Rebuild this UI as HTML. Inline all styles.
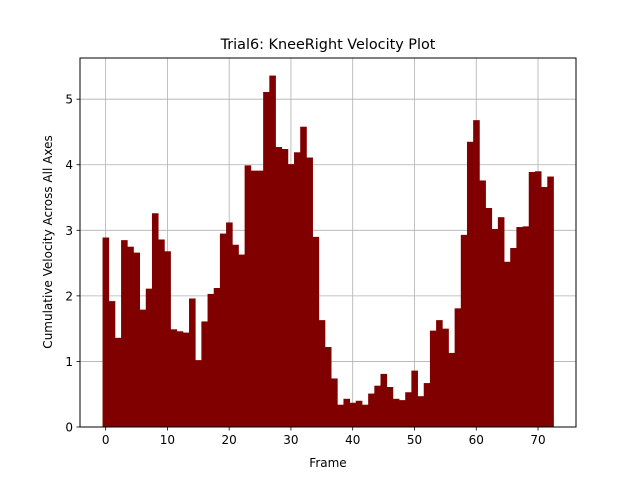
<!DOCTYPE html>
<html><head><meta charset="utf-8"><style>
body{margin:0;background:#fff;}
svg text{font-family:"DejaVu Sans","Liberation Sans",sans-serif;fill:#000;}
</style></head><body>
<svg id="chart" width="640" height="480" viewBox="0 0 640 480" xmlns="http://www.w3.org/2000/svg">
<rect width="640" height="480" fill="#fff"/>
<g id="grid"></g>
<g id="bars"></g>
<rect x="80" y="58" width="496" height="369" fill="none" stroke="#000" stroke-width="1"/>
<g id="ticks"></g>
<text x="328" y="49" text-anchor="middle" font-size="14.4">Trial6: KneeRight Velocity Plot</text>
<text x="328" y="467" text-anchor="middle" font-size="12">Frame</text>
<text transform="translate(52,242) rotate(-90)" text-anchor="middle" font-size="12">Cumulative Velocity Across All Axes</text>
</svg>
<script>
const frames = Array.from({length:73},(_,i)=>i);
const velocities = [2.89,1.92,1.36,2.85,2.75,2.66,1.79,2.11,3.26,2.86,2.68,1.49,1.46,1.44,1.96,1.02,1.61,2.03,2.12,2.95,3.12,2.78,2.63,3.99,3.91,3.91,5.11,5.36,4.27,4.24,4.01,4.19,4.58,4.11,2.90,1.63,1.22,0.74,0.34,0.43,0.37,0.40,0.34,0.51,0.63,0.81,0.61,0.43,0.41,0.53,0.86,0.47,0.67,1.47,1.63,1.50,1.13,1.81,2.93,4.35,4.68,3.76,3.34,3.02,3.20,2.52,2.73,3.05,3.06,3.89,3.90,3.66,3.82];
const xTicks = [0,10,20,30,40,50,60,70];
const yTicks = [0,1,2,3,4,5];
const NS='http://www.w3.org/2000/svg';
const L=80,R=576,T=58,B=427;
const xmin=-4.15,xmax=76.15,ymin=0,ymax=5.628;
const X=v=>L+(v-xmin)/(xmax-xmin)*(R-L);
const Y=v=>B-(v-ymin)/(ymax-ymin)*(B-T);
function mk(tag,a){const e=document.createElementNS(NS,tag);for(const k in a)e.setAttribute(k,a[k]);return e;}
const grid=document.getElementById('grid'),bars=document.getElementById('bars'),ticks=document.getElementById('ticks');
xTicks.forEach(t=>{
 const g=mk('line',{x1:X(t),x2:X(t),y1:T,y2:B,stroke:'#b0b0b0','stroke-width':0.8});
 
 
 grid.appendChild(g);
 const tk=mk('line',{x1:X(t),x2:X(t),y1:B,y2:B+3.5,stroke:'#000','stroke-width':0.8});
 
 
 ticks.appendChild(tk);
 const tx=mk('text',{x:X(t),y:B+17,'text-anchor':'middle','font-size':12});
 
 
 tx.textContent=t;ticks.appendChild(tx);
});
yTicks.forEach(t=>{
 const g=mk('line',{x1:L,x2:R,y1:Y(t),y2:Y(t),stroke:'#b0b0b0','stroke-width':0.8});
 
 
 grid.appendChild(g);
 const tk=mk('line',{x1:L-3.5,x2:L,y1:Y(t),y2:Y(t),stroke:'#000','stroke-width':0.8});
 
 
 ticks.appendChild(tk);
 const tx=mk('text',{x:L-7,y:Y(t)+4.5,'text-anchor':'end','font-size':12});
 
 
 tx.textContent=t;ticks.appendChild(tx);
});
frames.forEach((f,i)=>{
 const x0=X(f-0.5),x1=X(f+0.5);
 const r=mk('rect',{x:x0,y:Y(velocities[i]),width:x1-x0+0.4,height:Y(0)-Y(velocities[i]),fill:'#800000'});
 
 
 bars.appendChild(r);
});
</script>
</body></html>
